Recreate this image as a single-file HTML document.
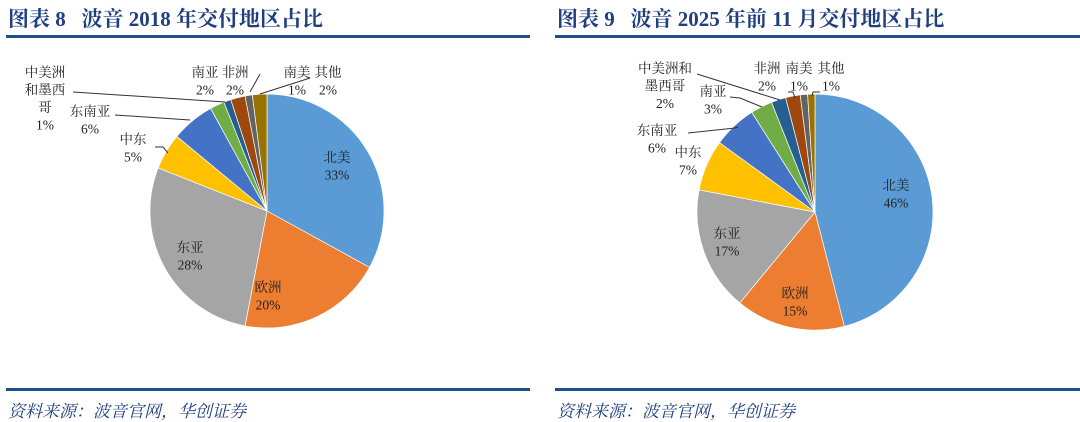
<!DOCTYPE html>
<html><head><meta charset="utf-8">
<style>
body{margin:0;width:1080px;height:421px;background:#fff;overflow:hidden;font-family:"Liberation Serif","Noto Serif CJK SC",serif;}
.title{position:absolute;top:3px;font-size:21px;font-weight:bold;color:#1f3f7f;font-family:"Liberation Serif","Noto Serif CJK SC",serif;white-space:nowrap;}
.rule{position:absolute;height:3px;background:#1f4e8c;}
.src{position:absolute;top:397px;font-size:17px;font-style:italic;color:#1f3f7f;font-family:"Liberation Serif","Noto Serif CJK SC",serif;white-space:nowrap;}
svg{position:absolute;left:0;top:0}
svg text{font-family:"Liberation Serif","Noto Serif CJK SC",serif;font-size:13.5px;fill:#222;text-anchor:middle}
</style></head><body>
<div class="title" style="left:8px">图表 8&nbsp;&nbsp;&nbsp;波音 2018 年交付地区占比</div>
<div class="title" style="left:557px">图表 9&nbsp;&nbsp;&nbsp;波音 2025 年前 11 月交付地区占比</div>
<div class="rule" style="left:6px;width:524px;top:35px"></div>
<div class="rule" style="left:555px;width:525px;top:35px"></div>
<div class="rule" style="left:6px;width:524px;top:388px"></div>
<div class="rule" style="left:555px;width:525px;top:388px"></div>
<div class="src" style="left:8px">资料来源：波音官网，华创证券</div>
<div class="src" style="left:557px">资料来源：波音官网，华创证券</div>
<svg id="svg" width="1080" height="421"></svg>
<script>
const regions = ["北美","欧洲","东亚","中东","东南亚","南亚","中美洲和墨西哥","非洲","南美","其他"];
const values2018 = [33,20,28,5,6,2,1,2,1,2];
const values2025 = [46,15,17,7,6,3,2,2,1,1];
const colors = ["#5b9bd5","#ed7d31","#a5a5a5","#ffc000","#4472c4","#70ad47","#255e91","#9e480e","#636363","#997300"];
const NS="http://www.w3.org/2000/svg";
const svg=document.getElementById('svg');
function mk(tag,attrs){const e=document.createElementNS(NS,tag);for(const k in attrs)e.setAttribute(k,attrs[k]);svg.appendChild(e);return e;}
function drawPie(vals,cx,cy,r,prefix){
  const tot=vals.reduce((a,b)=>a+b,0);let a=-Math.PI/2;
  vals.forEach((v,i)=>{
    const a2=a+v/tot*2*Math.PI;
    const x1=cx+r*Math.cos(a),y1=cy+r*Math.sin(a),x2=cx+r*Math.cos(a2),y2=cy+r*Math.sin(a2);
    const large=(a2-a)>Math.PI?1:0;
    const p=mk('path',{d:`M${cx},${cy}L${x1},${y1}A${r},${r} 0 ${large} 1 ${x2},${y2}Z`,fill:colors[i],stroke:'#fff','stroke-width':0.7});
    
    
    a=a2;
  });
}
function lbl(lines,x,y,name){
  lines.forEach((t,j)=>{const e=mk('text',{x:x,y:y+j*17.5});e.textContent=t;
    
    });
}
function line(pts){const e=mk('polyline',{points:pts,fill:'none',stroke:'#333','stroke-width':1});
  
  }
drawPie(values2018,267,211,117,'pie2018');
drawPie(values2025,815,212,118,'pie2025');
const v=values2018,w=values2025;
lbl(["北美",v[0]+"%"],337,162,'label-2018-north-america');
lbl(["欧洲",v[1]+"%"],268,292,'label-2018-europe');
lbl(["东亚",v[2]+"%"],190,252,'label-2018-east-asia');
lbl(["中东",v[3]+"%"],133,144,'label-2018-middle-east');
lbl(["东南亚",v[4]+"%"],90,116,'label-2018-southeast-asia');
lbl(["中美洲","和墨西","哥",v[6]+"%"],45,77,'label-2018-latin-america');
lbl(["南亚",v[5]+"%"],205,77,'label-2018-south-asia');
lbl(["非洲",v[7]+"%"],235,77,'label-2018-africa');
lbl(["南美",v[8]+"%"],297,77,'label-2018-south-america');
lbl(["其他",v[9]+"%"],328,77,'label-2018-other');
line("155,147 163,147 168,153");
line("115,115 190,120");
line("73,92 225,102");
line("260,74 250,92");
line("310,78 260,94");
lbl(["北美",w[0]+"%"],896,190,'label-2025-north-america');
lbl(["欧洲",w[1]+"%"],795,298,'label-2025-europe');
lbl(["东亚",w[2]+"%"],727,238,'label-2025-east-asia');
lbl(["中东",w[3]+"%"],688,157,'label-2025-middle-east');
lbl(["东南亚",w[4]+"%"],657,135,'label-2025-southeast-asia');
lbl(["南亚",w[5]+"%"],713,96,'label-2025-south-asia');
lbl(["中美洲和","墨西哥",w[6]+"%"],665,73,'label-2025-latin-america');
lbl(["非洲",w[7]+"%"],767,73,'label-2025-africa');
lbl(["南美",w[8]+"%"],799,73,'label-2025-south-america');
lbl(["其他",w[9]+"%"],831,73,'label-2025-other');
line("688,133 735,128 738,127");
line("730,97 740,98 762,107");
line("697,74 780,100");
line("788,92 793,92 795,98");
line("820,92 813,92 812,96");
</script>
</body></html>
